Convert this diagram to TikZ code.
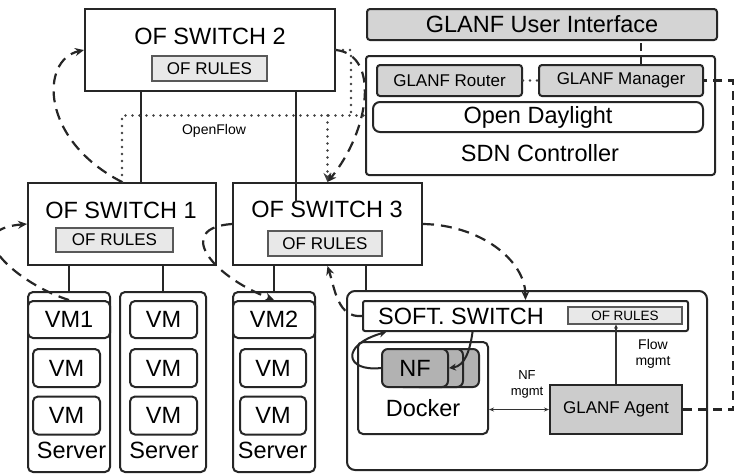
\documentclass[tikz,border=0pt]{standalone}
\usepackage{fontspec}
\setmainfont{Liberation Sans}
\usetikzlibrary{arrows.meta,calc}
\begin{document}
\begin{tikzpicture}[x=1pt,y=-1pt,
  box/.style={draw=black!85,line width=2pt,inner sep=0pt,fill=white},
  rb/.style={box,rounded corners=5pt},
  rules/.style={draw=black!65,line width=1.3pt,fill=black!9,inner sep=0pt,font=\fontsize{17}{19}\selectfont},
  tbig/.style={font=\fontsize{23.5}{26}\selectfont,inner sep=0pt},
  tmid/.style={font=\fontsize{17}{19}\selectfont,inner sep=0pt},
  tsmall/.style={font=\fontsize{14}{16.5}\selectfont,inner sep=0pt,align=center},
  lnk/.style={draw=black!85,line width=2pt},
  dshar/.style={draw=black!85,line width=2.2pt,dash pattern=on 11pt off 7pt,-{Stealth[length=9pt,width=8pt]}},
  dotln/.style={draw=black!75,line width=2.6pt,dash pattern=on 0pt off 7pt,line cap=round},
]
\useasboundingbox (0,0) rectangle (741,474);

% ---- OF switches
\node[box,minimum width=250pt,minimum height=82pt] (sw2) at (210,50) {};
\node[tbig] (sw2t) at (210,36) {OF SWITCH 2};
\node[rules,minimum width=115pt,minimum height=25pt] (r2) at (209.5,68.5) {OF RULES};

\node[box,minimum width=188pt,minimum height=82pt] (sw1) at (122,224) {};
\node[tbig] (sw1t) at (121,210) {OF SWITCH 1};
\node[rules,minimum width=117pt,minimum height=24pt] (r1) at (114.5,240) {OF RULES};

\node[box,minimum width=189pt,minimum height=82pt] (sw3) at (327.5,224) {};
\node[tbig] (sw3t) at (327,209) {OF SWITCH 3};
\node[rules,minimum width=114pt,minimum height=25pt] (r3) at (325,243.5) {OF RULES};

% ---- SDN controller
\node[rb,rounded corners=3pt,fill=black!17,minimum width=350pt,minimum height=31pt,tbig] (ui) at (542,24.5) {GLANF User Interface};
\node[box,rounded corners=3pt,minimum width=349pt,minimum height=119pt] (ctrl) at (540.5,115.5) {};
\node[box,rounded corners=3pt,fill=black!17,minimum width=145pt,minimum height=31pt,tmid] (router) at (449.5,80.5) {GLANF Router};
\node[box,rounded corners=3pt,fill=black!17,minimum width=164pt,minimum height=31pt,tmid] (manager) at (621,80.5) {GLANF Manager};
\node[rb,rounded corners=7pt,minimum width=330pt,minimum height=30pt,tbig] (odl) at (538,117) {Open Daylight};
\node[tbig] (sdnt) at (540,153) {SDN Controller};

% ---- servers
\node[rb,minimum width=82pt,minimum height=180pt] (s1) at (69,382) {};
\node[rb,minimum width=86pt,minimum height=180pt] (s2) at (163,382) {};
\node[rb,minimum width=82pt,minimum height=180pt] (s3) at (274,382) {};
\node[rb,minimum width=82pt,minimum height=37pt,tbig] (vm1) at (69,319.5) {VM1};
\node[rb,minimum width=67pt,minimum height=38pt,tbig] (vm1b) at (66.5,368) {VM};
\node[rb,minimum width=67pt,minimum height=38pt,tbig] (vm1c) at (66.5,415.5) {VM};
\node[rb,minimum width=67pt,minimum height=37pt,tbig] (vm2a) at (163.5,319.5) {VM};
\node[rb,minimum width=67pt,minimum height=38pt,tbig] (vm2b) at (163.5,368) {VM};
\node[rb,minimum width=67pt,minimum height=38pt,tbig] (vm2c) at (163.5,415.5) {VM};
\node[rb,minimum width=82pt,minimum height=37pt,tbig] (vm2) at (274,319.5) {VM2};
\node[rb,minimum width=66pt,minimum height=38pt,tbig] (vm3b) at (273,368) {VM};
\node[rb,minimum width=66pt,minimum height=38pt,tbig] (vm3c) at (273,415.5) {VM};
\node[tbig] (s1t) at (71.5,450) {Server};
\node[tbig] (s2t) at (164,450) {Server};
\node[tbig] (s3t) at (272.5,450) {Server};

% ---- GLANF server
\node[box,rounded corners=8pt,minimum width=360pt,minimum height=179pt] (gs) at (527,380.5) {};
\node[box,rounded corners=2pt,minimum width=325pt,minimum height=30pt] (softsw) at (525.5,316) {};
\node[tbig] (softt) at (461,316) {SOFT. SWITCH};
\node[rules,font=\fontsize{13.5}{15}\selectfont,minimum width=114pt,minimum height=17pt] (r4) at (625,315.5) {OF RULES};
\node[rb,minimum width=130pt,minimum height=92pt] (docker) at (423,388) {};
\node[tbig] (dockt) at (423,408) {Docker};
\node[rb,rounded corners=6pt,fill=black!30,minimum width=66pt,minimum height=38pt] (nf3) at (446,368) {};
\node[rb,rounded corners=6pt,fill=black!30,minimum width=66pt,minimum height=38pt] (nf2) at (430,368) {};
\node[rb,rounded corners=6pt,fill=black!30,minimum width=66pt,minimum height=38pt,tbig] (nf1) at (415,368) {NF};
\node[box,fill=black!20,minimum width=132pt,minimum height=49pt,tmid] (agent) at (616,409.5) {GLANF Agent};
\node[tsmall] (flowt) at (653,354) {Flow\\mgmt};
\node[tsmall,font=\fontsize{13}{16}\selectfont] (nfmt) at (527,384) {NF\\mgmt};
\node[tsmall] (oft) at (214,131) {OpenFlow};

% ---- solid links
\coordinate (a21) at ($(sw2.south west)!0.228!(sw2.south east)$);
\coordinate (a23) at ($(sw2.south west)!0.84!(sw2.south east)$);
\draw[lnk] (a21) -- (a21 |- sw1.north);
\draw[lnk] (a23) -- ($(a23 |- sw3.north)+(0,20)$);
\draw[lnk] (s1.north |- sw1.south) -- (s1.north);
\draw[lnk] (s2.north |- sw1.south) -- (s2.north);
\draw[lnk] (s3.north |- sw3.south) -- (s3.north);
\coordinate (a3g) at ($(sw3.south west)!0.7!(sw3.south east)$);
\draw[lnk] (a3g) -- (a3g |- gs.north);

% ---- OpenFlow dotted
\draw[dotln] (sw1.north) |- (ctrl.west);
\draw[dotln] (sw2.east) -| (351,116);
\draw[dotln,-{Stealth[length=9pt,width=8pt]}] (sw3.north |- ctrl.west) -- (sw3.north);

% ---- dashed flow arrows
\draw[dshar] (sw1.north) .. controls (40,140) and (40,60) .. (sw2.west);
\draw[dshar] (sw2.east) .. controls (380,55) and (370,130) .. (sw3.north);
\draw[dshar] (vm1.north) .. controls (20,285) and (-45,230) .. (sw1.west);
\draw[dshar] (sw3.west) .. controls (175,228) and (210,275) .. (vm2.north);
\draw[dshar] (sw3.east) .. controls (480,225) and (525,260) .. (softsw.north);
\draw[dshar] (softsw.west) .. controls (338,318) and (335,290) .. (sw3.south);

% ---- inside GLANF server
\draw[lnk,-{Stealth[length=7pt,width=7pt]}] ($(softsw.south west)!0.338!(softsw.south east)$) .. controls (470,350) and (465,366) .. (nf1.east);
\draw[lnk,-{Stealth[length=7pt,width=7pt]}] (nf1.west) .. controls (345,372) and (340,345) .. ($(softsw.south west)!0.074!(softsw.south east)$);
\draw[draw=black!80,line width=1.2pt,-{Stealth[length=4pt,width=4pt]}] (agent.north) -- (agent.north |- r4.south);
\draw[draw=black!80,line width=1.1pt,{Stealth[length=5pt,width=4pt]}-{Stealth[length=5pt,width=4pt]}] (docker.east |- agent.west) -- (agent.west);

% ---- controller links
\coordinate (um) at ($(manager.north west)!0.62!(manager.north east)$);
\draw[lnk,dash pattern=on 8pt off 5pt] (um) -- (um |- ui.south);
\draw[dotln] (router.east) -- (manager.west);
\coordinate (rc) at (733,0);
\draw[draw=black!85,line width=2.2pt,dash pattern=on 9pt off 6pt] (agent.east) -- (agent.east -| rc) -- (manager.east -| rc) -- (manager.east);
\end{tikzpicture}
\end{document}
